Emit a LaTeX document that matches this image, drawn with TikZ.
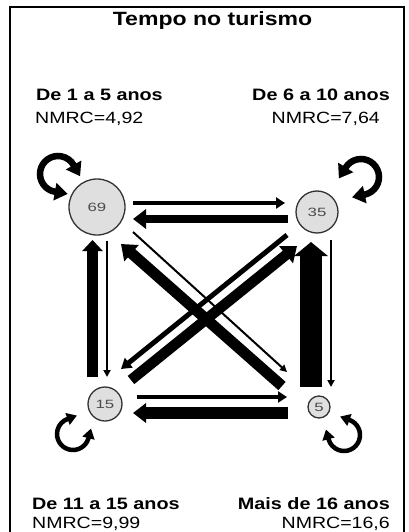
\documentclass[tikz,border=0pt]{standalone}
\usepackage{fontspec}
\setmainfont{Liberation Sans}[FakeStretch=1.2]
\newfontfamily\numfont{Liberation Sans}[FakeStretch=1.4]
\usetikzlibrary{arrows.meta,calc}
\begin{document}
\begin{tikzpicture}[x=1pt,y=-1pt,
  state/.style={circle,draw=black!80,line width=1.3pt,fill=gray!25,inner sep=0pt,text=black!70,font=\numfont\fontsize{12}{13}\selectfont},
  lab/.style={inner sep=0pt,font=\bfseries\fontsize{16.5}{18}\selectfont},
  val/.style={inner sep=0pt,font=\fontsize{16.3}{18}\selectfont},
  blk/.style n args={3}{line width=#1,-{Triangle[width=#2,length=#3]}},
  loopbig/.style={line width=6.5pt,{Triangle[width=17pt,length=13pt]}-{Triangle[width=17pt,length=13pt]}},
  loopsmall/.style={line width=4.5pt,{Triangle[width=12pt,length=10pt]}-{Triangle[width=12pt,length=10pt]}},
]
\useasboundingbox (0,0) rectangle (408,532);
\draw[line width=2pt] (404,545) -- (404,7) -- (10,7) -- (10,545);

\node[inner sep=0pt,anchor=base,font=\bfseries\fontsize{19.2}{21}\selectfont] (title) at (212.5,26) {Tempo no turismo};

\node[lab,anchor=base west] (l1) at (36,100) {De 1 a 5 anos};
\node[val,anchor=base west] (v1) at (35,123) {NMRC=4,92};
\node[lab,anchor=base east] (l2) at (390,100) {De 6 a 10 anos};
\node[val,anchor=base east] (v2) at (380,123) {NMRC=7,64};
\node[lab,anchor=base west] (l3) at (32,509) {De 11 a 15 anos};
\node[val,anchor=base west] (v3) at (32,528) {NMRC=9,99};
\node[lab,anchor=base east] (l4) at (390,509) {Mais de 16 anos};
\node[val,anchor=base east] (v4) at (390,528) {NMRC=16,6};

\node[state,minimum size=56pt] (n69) at (97,207) {69};
\node[state,minimum size=42pt] (n35) at (317,212) {35};
\node[state,minimum size=34pt] (n15) at (105,404) {15};
\node[state,minimum size=22pt] (n5) at (319,407) {5};

% horizontal
\draw[blk={4.5pt}{11pt}{9pt}] ($(n69)+(36,-4)$) -- ($(n35)+(-32,-9)$);
\draw[blk={8.5pt}{19pt}{13pt}] ($(n35)+(-29,7)$) -- ($(n69)+(36,12)$);
\draw[blk={4.5pt}{11pt}{9pt}] ($(n15)+(32,-7)$) -- ($(n5)+(-32,-10)$);
\draw[blk={12.5pt}{19pt}{13pt}] ($(n5)+(-31,6)$) -- ($(n15)+(28,9)$);
% vertical
\draw[blk={2.5pt}{7pt}{7pt}] ($(n69)+(10,34)$) -- ($(n15)+(2,-27)$);
\draw[blk={11.5pt}{20pt}{11pt}] ($(n15)+(-12.5,-27)$) -- ($(n69)+(-4.5,33)$);
\draw[blk={2.5pt}{7pt}{7pt}] ($(n35)+(14,28)$) -- ($(n5)+(12,-20)$);
\draw[blk={22pt}{33pt}{14pt}] ($(n5)+(-8,-20)$) -- ($(n35)+(-6,30)$);
% diagonal
\draw[blk={2pt}{7pt}{7pt}] ($(n69)+(36,25)$) -- ($(n5)+(-32,-35)$);
\draw[blk={11pt}{21pt}{14pt}] ($(n5)+(-37,-21)$) -- ($(n69)+(24,37)$);
\draw[blk={5pt}{12pt}{10pt}] ($(n35)+(-30,23)$) -- ($(n15)+(16,-35)$);
\draw[blk={10.5pt}{21pt}{14pt}] ($(n15)+(26,-24)$) -- ($(n35)+(-20,34)$);

% self loops
\coordinate (c69) at ($(n69)+(-39,-33)$);
\coordinate (c35) at ($(n35)+(44,-35)$);
\coordinate (c15) at ($(n15)+(-32,30)$);
\coordinate (c5) at ($(n5)+(25,28)$);
\draw[loopbig] ($(c69)+(100:18)+(10:13)$) -- ($(c69)+(100:18)$) arc[start angle=100,end angle=330,radius=18] -- ++(60:13);
\draw[loopbig] ($(c35)+(212:18)+(122:13)$) -- ($(c35)+(212:18)$) arc[start angle=212,end angle=438,radius=18] -- ++(168:13);
\draw[loopsmall] ($(c15)+(15:16)+(-75:10)$) -- ($(c15)+(15:16)$) arc[start angle=15,end angle=250,radius=16] -- ++(340:10);
\draw[loopsmall] ($(c5)+(290:16)+(200:10)$) -- ($(c5)+(290:16)$) arc[start angle=290,end angle=525,radius=16] -- ++(255:10);
\end{tikzpicture}
\end{document}
